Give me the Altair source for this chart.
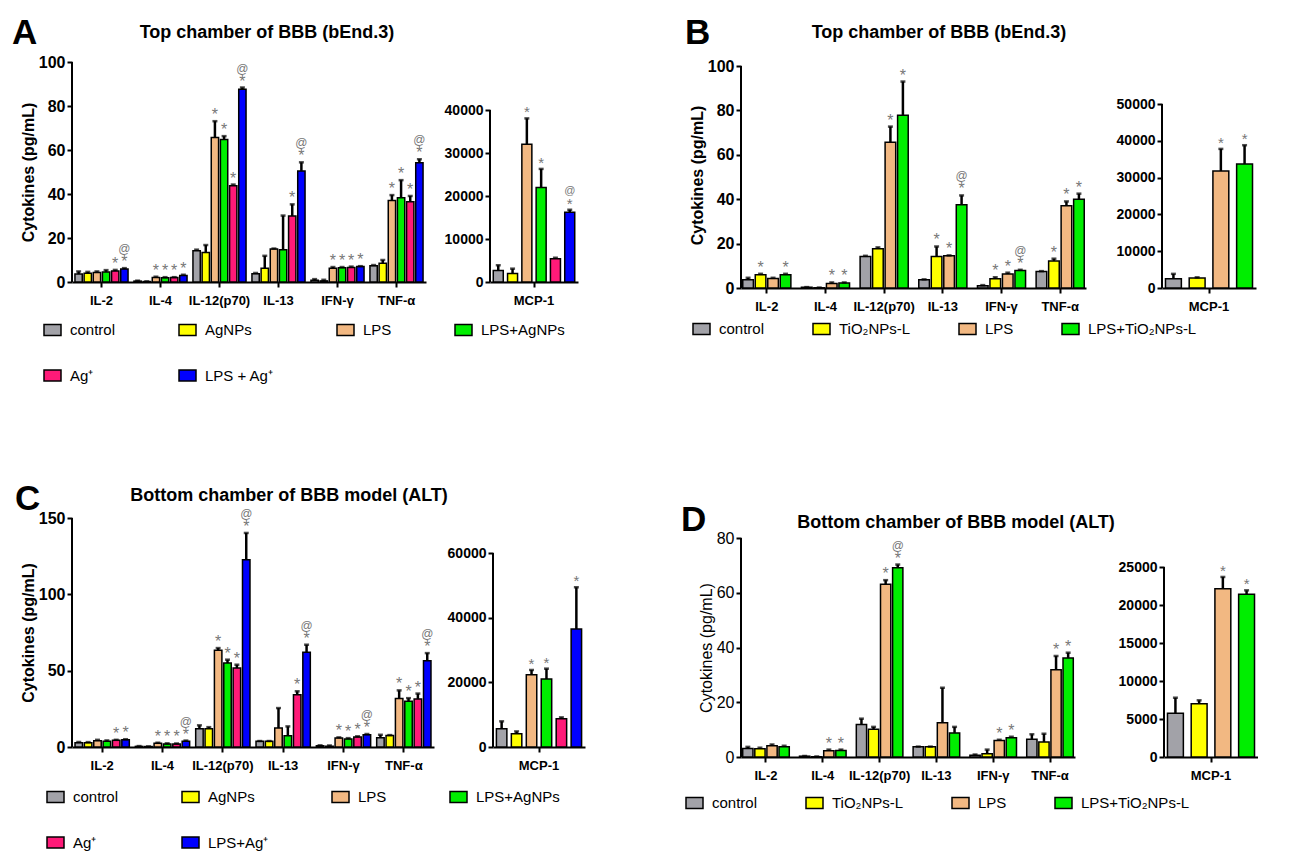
import altair as alt
import pandas as pd

FONT = "Liberation Sans"

CYTS = ["IL-2", "IL-4", "IL-12(p70)", "IL-13", "IFN-γ", "TNF-α"]
MCP = ["MCP-1"]

GROUPS_A = ["control", "AgNPs", "LPS", "LPS+AgNPs", "Ag⁺", "LPS + Ag⁺"]
GROUPS_C = ["control", "AgNPs", "LPS", "LPS+AgNPs", "Ag⁺", "LPS+Ag⁺"]
GROUPS_TI = ["control", "TiO₂NPs-L", "LPS", "LPS+TiO₂NPs-L"]
COLORS6 = ["#a2a2a8", "#ffff00", "#f2b882", "#00ee00", "#ff1a78", "#0000ff"]
COLORS4 = COLORS6[:4]

# ---------------- Panel A ----------------
A_MEAN = [
    [3.6, 4.0, 4.3, 4.6, 5.0, 5.9],
    [0.4, 0.2, 2.0, 1.9, 2.0, 3.0],
    [14.2, 13.4, 65.7, 64.8, 43.8, 87.6],
    [3.8, 6.3, 15.0, 14.7, 30.0, 50.5],
    [0.8, 0.5, 6.3, 6.5, 6.6, 7.0],
    [7.4, 8.5, 37.0, 38.3, 36.5, 54.2],
]
A_ERR = [
    [1.2, 0.6, 0.5, 0.8, 0.5, 0.4],
    [0.2, 0.1, 0.4, 0.3, 0.2, 0.3],
    [0.5, 3.4, 7.4, 1.5, 0.5, 0.8],
    [0.3, 5.6, 0.2, 15.5, 5.3, 3.9],
    [0.5, 0.5, 0.5, 0.3, 0.4, 0.2],
    [0.3, 1.5, 2.5, 8.0, 2.6, 1.6],
]
A_SIG = [
    ["", "", "", "", "*", "*@"],
    ["", "", "*", "*", "*", "*"],
    ["", "", "*", "*", "*", "*@"],
    ["", "", "", "", "*", "*@"],
    ["", "", "*", "*", "*", "*"],
    ["", "", "*", "*", "*", "*@"],
]
A_MCP_MEAN = [[2700, 2000, 32050, 22000, 5400, 16200]]
A_MCP_ERR = [[1200, 1100, 6000, 4300, 250, 600]]
A_MCP_SIG = [["", "", "*", "*", "", "*@"]]

# ---------------- Panel B ----------------
B_MEAN = [
    [3.7, 6.0, 4.3, 6.0],
    [0.3, 0.1, 2.0, 2.2],
    [14.2, 17.7, 65.7, 77.8],
    [3.7, 14.2, 14.5, 37.5],
    [1.0, 4.2, 6.3, 7.9],
    [7.4, 12.2, 37.0, 40.0],
]
B_ERR = [
    [0.9, 0.4, 0.3, 0.4],
    [0.1, 0.1, 0.5, 0.3],
    [0.3, 0.6, 7.0, 15.2],
    [0.2, 4.5, 0.2, 4.2],
    [0.3, 0.6, 0.6, 0.3],
    [0.2, 1.0, 2.0, 2.5],
]
B_SIG = [
    ["", "*", "", "*"],
    ["", "", "*", "*"],
    ["", "", "*", "*"],
    ["", "*", "*", "*@"],
    ["", "*", "*", "*@"],
    ["", "*", "*", "*"],
]
B_MCP_MEAN = [[2540, 2700, 31800, 33700]]
B_MCP_ERR = [[1300, 200, 6000, 5100]]
B_MCP_SIG = [["", "", "*", "*"]]

# ---------------- Panel C ----------------
C_MEAN = [
    [2.8, 2.8, 4.1, 3.7, 4.4, 4.8],
    [0.4, 0.3, 2.4, 2.0, 2.0, 3.7],
    [12.0, 12.0, 63.3, 55.0, 51.7, 122.7],
    [3.7, 3.7, 12.4, 7.4, 34.3, 62.0],
    [0.8, 0.5, 5.9, 5.3, 6.5, 8.0],
    [6.0, 7.6, 31.7, 30.0, 31.5, 56.5],
]
C_ERR = [
    [0.5, 0.4, 0.6, 0.6, 0.3, 0.3],
    [0.2, 0.1, 0.4, 0.4, 0.3, 0.5],
    [2.2, 1.0, 1.5, 2.2, 2.2, 17.5],
    [0.2, 0.2, 13.1, 6.1, 2.2, 5.0],
    [0.3, 0.5, 0.4, 0.5, 0.5, 0.5],
    [2.0, 0.2, 5.4, 2.0, 3.5, 5.0],
]
C_SIG = [
    ["", "", "", "", "*", "*"],
    ["", "", "*", "*", "*", "*@"],
    ["", "", "*", "*", "*", "*@"],
    ["", "", "", "", "*", "*@"],
    ["", "", "*", "*", "*", "*@"],
    ["", "", "*", "*", "*", "*@"],
]
C_MCP_MEAN = [[5670, 4120, 22370, 21030, 8760, 36500]]
C_MCP_ERR = [[2270, 700, 1450, 3200, 400, 12900]]
C_MCP_SIG = [["", "", "*", "*", "", "*"]]

# ---------------- Panel D ----------------
D_MEAN = [
    [3.1, 3.0, 4.1, 3.7],
    [0.3, 0.1, 2.3, 2.4],
    [11.9, 10.1, 63.1, 69.1],
    [3.7, 3.7, 12.5, 8.8],
    [0.6, 1.2, 6.0, 7.0],
    [6.5, 5.5, 31.9, 36.2],
]
D_ERR = [
    [0.6, 0.4, 0.5, 0.4],
    [0.1, 0.1, 0.4, 0.3],
    [2.1, 0.9, 1.5, 1.2],
    [0.1, 0.1, 12.8, 2.2],
    [0.3, 1.5, 0.3, 0.4],
    [1.8, 3.0, 5.0, 1.9],
]
D_SIG = [
    ["", "", "", ""],
    ["", "", "*", "*"],
    ["", "", "*", "*@"],
    ["", "", "", ""],
    ["", "", "*", "*"],
    ["", "", "*", "*"],
]
D_MCP_MEAN = [[5750, 7020, 22150, 21400]]
D_MCP_ERR = [[2050, 440, 1540, 530]]
D_MCP_SIG = [["", "", "*", "*"]]

TITLES = {
    "A": "Top chamber of BBB (bEnd.3)",
    "B": "Top chamber of BBB (bEnd.3)",
    "C": "Bottom chamber of BBB model (ALT)",
    "D": "Bottom chamber of BBB model (ALT)",
}
Y_TITLE = "Cytokines (pg/mL)"


def make_df(cats, groups, mean, err, sig):
    rows = []
    for ci, c in enumerate(cats):
        for gi, g in enumerate(groups):
            m = mean[ci][gi]
            s = sig[ci][gi]
            rows.append(dict(cyt=c, grp=g, val=m, hi=m + err[ci][gi],
                             star="*" if "*" in s else "",
                             at="@" if "@" in s else ""))
    return pd.DataFrame(rows)


def bar_chart(df, cats, groups, colors, legend, yvalues, top_px, ytitle,
              width, height, xpad, offpad, bold_y=True, yfs=16, star_fs=16,
              minor=None):
    top = yvalues[-1]
    ymax = top * height / top_px
    tick_size = 5
    label_expr = None
    if minor is not None:
        yvalues = sorted(set(yvalues) | set(minor))
        label_expr = "datum.value % 20 === 0 ? datum.label : ''"
        tick_size = {"condition": {"test": "datum.value % 20 === 0", "value": 5},
                     "value": 3}
    axis_kw = dict(values=yvalues, title=ytitle, grid=False, format="d",
                   labelFont=FONT, labelFontSize=yfs,
                   labelFontWeight="bold" if bold_y else "normal",
                   titleFont=FONT, titleFontSize=16,
                   titleFontWeight="bold" if bold_y else "normal",
                   labelColor="black", titleColor="black", domain=False,
                   tickColor="black", tickWidth=2, tickSize=tick_size,
                   labelPadding=2, titlePadding=2)
    if label_expr:
        axis_kw["labelExpr"] = label_expr
    yaxis = alt.Axis(**axis_kw)
    xaxis = alt.Axis(title=None, labelAngle=0, labelFont=FONT, labelFontSize=13,
                     labelFontWeight="bold", labelColor="black",
                     domainColor="black", domainWidth=2, tickColor="black",
                     tickWidth=2, tickSize=5, labelPadding=7)
    base = alt.Chart(df).encode(
        x=alt.X("cyt:N", sort=cats,
                scale=alt.Scale(paddingInner=xpad[0], paddingOuter=xpad[1]),
                axis=xaxis),
        xOffset=alt.XOffset("grp:N", sort=groups,
                            scale=alt.Scale(paddingInner=offpad, paddingOuter=0)),
    )
    yscale = alt.Scale(domain=[0, ymax], nice=False, zero=True)
    bars = base.mark_bar(stroke="black", strokeWidth=1.5).encode(
        y=alt.Y("val:Q", scale=yscale, axis=yaxis),
        color=alt.Color("grp:N", sort=groups,
                        scale=alt.Scale(domain=groups, range=colors),
                        legend=legend),
    )
    err = base.mark_rule(color="black", strokeWidth=2.5).encode(
        y=alt.Y("val:Q", axis=yaxis), y2="hi:Q")
    cap = base.mark_tick(color="black", thickness=2.5, size=5,
                         orient="horizontal").encode(y=alt.Y("hi:Q", axis=yaxis))
    stars = base.mark_text(color="#777777", font=FONT, fontSize=star_fs,
                           baseline="middle", dy=-6).encode(
        y=alt.Y("hi:Q", axis=yaxis), text="star:N")
    ats = base.mark_text(color="#777777", font=FONT, fontSize=star_fs - 4,
                         baseline="middle", dy=-19).encode(
        y=alt.Y("hi:Q", axis=yaxis), text="at:N")
    line = alt.Chart(pd.DataFrame({"k": [0]})).mark_rule(
        color="black", strokeWidth=2).encode(
        x=alt.value(0), y=alt.datum(0), y2=alt.datum(top))
    return alt.layer(bars, err, cap, stars, ats, line).properties(
        width=width, height=height)


def label_layer(letter, title, lx, ly, tx, ty):
    lt = alt.Chart(pd.DataFrame({"t": [letter]})).mark_text(
        font=FONT, fontSize=35, fontWeight="bold", align="left",
        baseline="alphabetic", color="black").encode(
        text="t:N", x=alt.value(lx), y=alt.value(ly))
    tt = alt.Chart(pd.DataFrame({"t": [title]})).mark_text(
        font=FONT, fontSize=18, fontWeight="bold", align="center",
        baseline="alphabetic", color="black").encode(
        text="t:N", x=alt.value(tx), y=alt.value(ty))
    return [lt, tt]


def legend_for(lx, ly, colpad):
    return alt.Legend(title=None, orient="none", legendX=lx, legendY=ly,
                      direction="horizontal", columns=4,
                      symbolType="M-1,-0.65H1V0.65H-1Z", symbolSize=289,
                      symbolStrokeColor="black", symbolStrokeWidth=1.5,
                      labelFont=FONT, labelFontSize=15, labelColor="black",
                      labelOffset=8, labelLimit=300, columnPadding=colpad,
                      rowPadding=27)


def panel(letter, groups, colors, mean, err, sig, mcp_mean, mcp_err, mcp_sig,
          yvals, h, top_px, mw, iw, itop_px, ivals, ispacing, leg, lab,
          bold_y=True, xpad=(0.1, 0.05), offpad=0.2, ipad=0.3, minor=None):
    df = make_df(CYTS, groups, mean, err, sig)
    dfi = make_df(MCP, groups, mcp_mean, mcp_err, mcp_sig)
    main = bar_chart(df, CYTS, groups, colors, leg, yvals, top_px, Y_TITLE,
                     mw, h, xpad, offpad, bold_y=bold_y, minor=minor)
    main = alt.layer(main, *label_layer(letter, TITLES[letter], *lab))
    inset = bar_chart(dfi, MCP, groups, colors, leg, ivals, itop_px, None,
                      iw, h, (0.0, 0.04), ipad, yfs=14, star_fs=15)
    return alt.hconcat(main, inset, spacing=ispacing, bounds="flush").resolve_scale(
        xOffset="independent")


legA = legend_for(-29, 258, 60)
legB = legend_for(-49, 257, 45)
legC = legend_for(-26, 269, 60)
legD = legend_for(-56, 255, 45)

A = panel("A", GROUPS_A, COLORS6, A_MEAN, A_ERR, A_SIG, A_MCP_MEAN, A_MCP_ERR,
          A_MCP_SIG, [0, 20, 40, 60, 80, 100], 220, 220, 354, 88, 172,
          [0, 10000, 20000, 30000, 40000], 64, legA,
          (-60, -18, 195, -24))
B = panel("B", GROUPS_TI, COLORS4, B_MEAN, B_ERR, B_SIG, B_MCP_MEAN, B_MCP_ERR,
          B_MCP_SIG, [0, 20, 40, 60, 80, 100], 226, 222, 345, 94, 184,
          [0, 10000, 20000, 30000, 40000, 50000], 76, legB,
          (-56, -18, 198, -24), xpad=(0.18, 0.03), offpad=0.15, ipad=0.33,
          minor=[10, 30, 50, 70, 90])
C = panel("C", GROUPS_C, COLORS6, C_MEAN, C_ERR, C_SIG, C_MCP_MEAN, C_MCP_ERR,
          C_MCP_SIG, [0, 50, 100, 150], 229, 229, 362, 92, 194,
          [0, 20000, 40000, 60000], 59, legC,
          (-57, -8, 217, -17))
D = panel("D", GROUPS_TI, COLORS4, D_MEAN, D_ERR, D_SIG, D_MCP_MEAN, D_MCP_ERR,
          D_MCP_SIG, [0, 20, 40, 60, 80], 219, 219, 334, 94, 190,
          [0, 5000, 10000, 15000, 20000, 25000], 89, legD,
          (-60, -7, 215, -10), bold_y=False, xpad=(0.18, 0.03), offpad=0.15,
          ipad=0.33)

left = alt.vconcat(A, C, spacing=97).resolve_scale(
    color="independent", xOffset="independent")
right = alt.vconcat(B, D, spacing=165).resolve_scale(
    color="independent", xOffset="independent")

chart = alt.hconcat(left, right, spacing=96).resolve_scale(
    color="independent", xOffset="independent"
).properties(padding={"left": 4, "top": 8, "right": 0, "bottom": 0}
).configure(font=FONT).configure_view(stroke=None)

chart.save("out.html", embed_options={"renderer": "svg", "actions": False})
